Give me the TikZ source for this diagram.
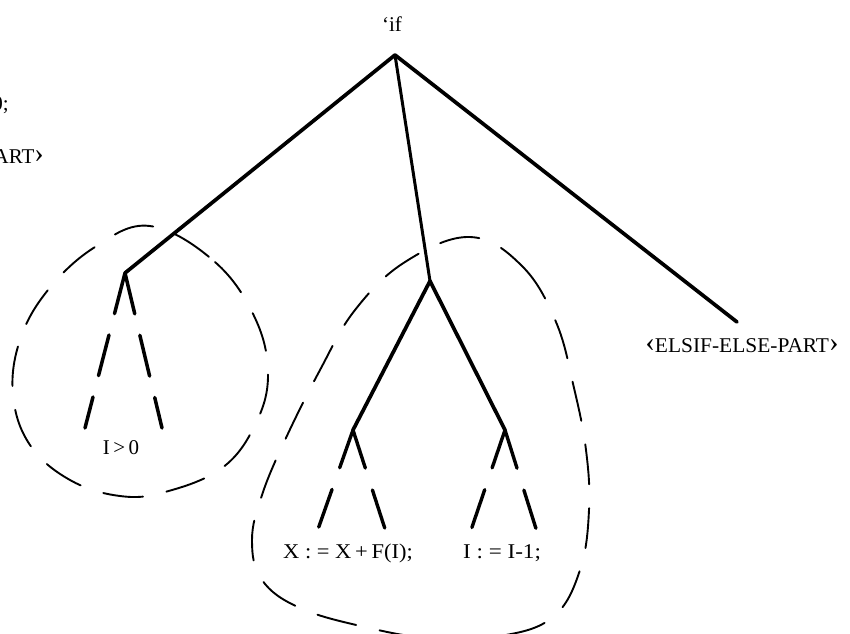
\documentclass[tikz,border=0pt]{standalone}
\usepackage{fontspec}
\setmainfont{Liberation Serif}
\newcommand{\lbr}{\raisebox{0.5pt}{\scalebox{1.35}{‹}}}
\newcommand{\rbr}{\raisebox{0.5pt}{\scalebox{1.35}{›}}}
\begin{document}
\begin{tikzpicture}[x=1pt,y=-1pt,
  trunk/.style={line width=3.7pt, line cap=round, line join=round},
  thin trunk/.style={line width=3pt, line cap=round},
  twig/.style={line width=3.5pt, line cap=round, dash pattern=on 42pt off 22pt},
  leaf/.style={line width=3.4pt, line cap=round, dash pattern=on 40pt off 23pt},
  loopline/.style={line width=1.9pt, line cap=round, dash pattern=on 40pt off 24pt},
  lbl/.style={font=\fontsize{21}{24}\selectfont, inner sep=0pt}]
\useasboundingbox (0,0) rectangle (850,633);

% tree points
\coordinate (root) at (395,55);
\coordinate (L) at (125,273);
\coordinate (M) at (430,281);
\coordinate (R) at (737,322);
\coordinate (ML) at (353,430);
\coordinate (MR) at (505,430);
\coordinate (l1) at (85,428);
\coordinate (l2) at (162,428);
\coordinate (m1) at (317,532);
\coordinate (m2) at (386,532);
\coordinate (m3) at (470,533);
\coordinate (m4) at (538,535);

% labels
\node[lbl, anchor=base] (if) at (392,31) {‘if};
\node[lbl, anchor=base] (elsif) at (742,352) {\scalebox{1.02}[1]{\lbr ELSIF-ELSE-PART\rbr}};
\node[lbl, anchor=base] (cond) at (121,454) {I\,>\,0};
\node[lbl, anchor=base] (assign1) at (348,558) {\scalebox{1.07}[1]{X : = X\,+\,F(I);}};
\node[lbl, anchor=base] (assign2) at (502,558) {\scalebox{1.1}[1]{I : = I-1;}};
\node[lbl, anchor=base east] (cut1) at (9,110) {0;};
\node[lbl, anchor=base east] (cut2) at (44,163) {PART\rbr};

% main branches
\draw[trunk] (root) -- (L);
\draw[thin trunk] (root) -- (M);
\draw[trunk] (root) -- (R);
\draw[white, line width=1.5pt] (686,260) -- (702,261);

% middle subtree
\draw[trunk] (M) -- (ML);
\draw[trunk] (M) -- (MR);

% dashed sub-branches
\draw[twig] (L) -- (l1);
\draw[twig] (L) -- (l2);
\draw[leaf] (ML) -- (m1);
\draw[leaf] (ML) -- (m2);
\draw[leaf] (MR) -- (m3);
\draw[leaf] (MR) -- (m4);

% dashed loops
\draw[loopline] plot[smooth cycle, tension=0.65] coordinates {
  (150,226) (215,262) (255,318) (268,375) (255,425) (222,468) (165,492)
  (120,496) (70,480) (30,445) (13,395) (20,340) (48,290) (95,247)};
\draw[loopline] plot[smooth cycle, tension=0.65] coordinates {
  (470,237) (522,266) (556,322) (574,388) (586,450) (589,510) (580,570)
  (553,617) (500,636) (430,638) (365,627) (300,608) (262,580) (252,540)
  (262,495) (285,440) (320,370) (355,310) (405,262)};
\end{tikzpicture}
\end{document}
